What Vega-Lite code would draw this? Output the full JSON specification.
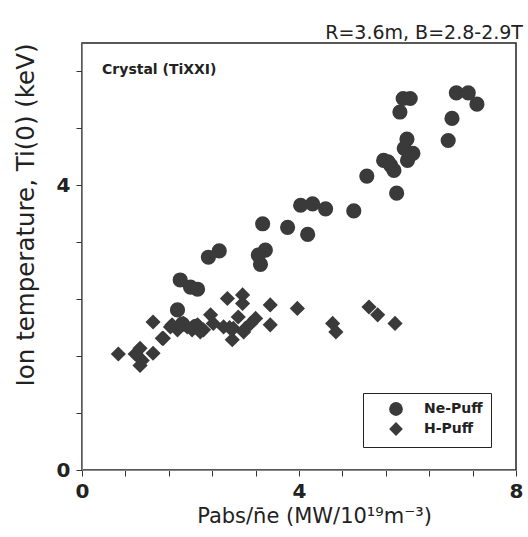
{
  "$schema": "https://vega.github.io/schema/vega-lite/v6.json",
  "width": 434,
  "height": 427,
  "autosize": {"type": "none"},
  "padding": {"left": 82, "top": 43, "right": 12, "bottom": 67},
  "background": "white",
  "title": {"text": "R=3.6m, B=2.8-2.9T", "anchor": "end", "fontSize": 19, "font": "DejaVu Sans", "fontWeight": "normal", "color": "#222", "offset": 6, "dy": 6},
  "config": {
    "view": {"stroke": "#222", "strokeWidth": 1.5},
    "axis": {"labelColor": "#222", "labelFont": "DejaVu Sans", "labelFontSize": 20, "labelFontWeight": "bold", "titleFont": "DejaVu Sans", "titleColor": "#222", "titleFontWeight": "normal", "titleFontSize": 23, "labelFlush": false, "labelOverlap": false}
  },
  "datasets": {
    "pts": [
      {"s": "Ne-Puff", "x": 5.92, "y": 5.22}, {"s": "Ne-Puff", "x": 6.05, "y": 5.22}, {"s": "Ne-Puff", "x": 5.86, "y": 5.03},
      {"s": "Ne-Puff", "x": 6.90, "y": 5.30}, {"s": "Ne-Puff", "x": 7.12, "y": 5.30}, {"s": "Ne-Puff", "x": 7.28, "y": 5.14},
      {"s": "Ne-Puff", "x": 6.82, "y": 4.94}, {"s": "Ne-Puff", "x": 6.75, "y": 4.63}, {"s": "Ne-Puff", "x": 5.99, "y": 4.65},
      {"s": "Ne-Puff", "x": 5.94, "y": 4.52}, {"s": "Ne-Puff", "x": 6.10, "y": 4.45}, {"s": "Ne-Puff", "x": 6.00, "y": 4.35},
      {"s": "Ne-Puff", "x": 5.56, "y": 4.35}, {"s": "Ne-Puff", "x": 5.64, "y": 4.33}, {"s": "Ne-Puff", "x": 5.69, "y": 4.28},
      {"s": "Ne-Puff", "x": 5.75, "y": 4.21}, {"s": "Ne-Puff", "x": 5.25, "y": 4.13}, {"s": "Ne-Puff", "x": 5.80, "y": 3.89},
      {"s": "Ne-Puff", "x": 5.01, "y": 3.64}, {"s": "Ne-Puff", "x": 4.03, "y": 3.72}, {"s": "Ne-Puff", "x": 4.25, "y": 3.74},
      {"s": "Ne-Puff", "x": 4.49, "y": 3.67}, {"s": "Ne-Puff", "x": 3.33, "y": 3.46}, {"s": "Ne-Puff", "x": 3.79, "y": 3.41},
      {"s": "Ne-Puff", "x": 4.16, "y": 3.31}, {"s": "Ne-Puff", "x": 2.53, "y": 3.08}, {"s": "Ne-Puff", "x": 2.33, "y": 2.99},
      {"s": "Ne-Puff", "x": 3.38, "y": 3.09}, {"s": "Ne-Puff", "x": 3.25, "y": 3.02}, {"s": "Ne-Puff", "x": 3.29, "y": 2.89},
      {"s": "Ne-Puff", "x": 1.81, "y": 2.67}, {"s": "Ne-Puff", "x": 2.00, "y": 2.57}, {"s": "Ne-Puff", "x": 2.13, "y": 2.54},
      {"s": "Ne-Puff", "x": 1.76, "y": 2.25}, {"s": "Ne-Puff", "x": 1.85, "y": 2.05}, {"s": "Ne-Puff", "x": 2.10, "y": 2.02},
      {"s": "H-Puff", "x": 0.67, "y": 1.63}, {"s": "H-Puff", "x": 0.98, "y": 1.63}, {"s": "H-Puff", "x": 1.07, "y": 1.71},
      {"s": "H-Puff", "x": 1.11, "y": 1.54}, {"s": "H-Puff", "x": 1.07, "y": 1.47}, {"s": "H-Puff", "x": 1.31, "y": 1.64},
      {"s": "H-Puff", "x": 1.31, "y": 2.08}, {"s": "H-Puff", "x": 1.48, "y": 1.85}, {"s": "H-Puff", "x": 1.63, "y": 2.01},
      {"s": "H-Puff", "x": 1.76, "y": 1.97}, {"s": "H-Puff", "x": 1.87, "y": 2.06}, {"s": "H-Puff", "x": 2.03, "y": 1.97},
      {"s": "H-Puff", "x": 2.13, "y": 2.04}, {"s": "H-Puff", "x": 2.24, "y": 1.97}, {"s": "H-Puff", "x": 2.37, "y": 2.18},
      {"s": "H-Puff", "x": 2.42, "y": 2.06}, {"s": "H-Puff", "x": 2.61, "y": 2.01}, {"s": "H-Puff", "x": 2.68, "y": 2.41},
      {"s": "H-Puff", "x": 2.77, "y": 1.83}, {"s": "H-Puff", "x": 2.79, "y": 1.99}, {"s": "H-Puff", "x": 2.96, "y": 2.46},
      {"s": "H-Puff", "x": 2.96, "y": 2.34}, {"s": "H-Puff", "x": 2.88, "y": 2.15}, {"s": "H-Puff", "x": 3.01, "y": 1.99},
      {"s": "H-Puff", "x": 3.11, "y": 2.06}, {"s": "H-Puff", "x": 3.20, "y": 2.13}, {"s": "H-Puff", "x": 3.47, "y": 2.32},
      {"s": "H-Puff", "x": 3.47, "y": 2.04}, {"s": "H-Puff", "x": 3.97, "y": 2.27}, {"s": "H-Puff", "x": 4.62, "y": 2.06},
      {"s": "H-Puff", "x": 4.68, "y": 1.94}, {"s": "H-Puff", "x": 5.29, "y": 2.29}, {"s": "H-Puff", "x": 5.45, "y": 2.18},
      {"s": "H-Puff", "x": 5.77, "y": 2.06}, {"s": "H-Puff", "x": 1.50, "y": 1.85}, {"s": "H-Puff", "x": 1.66, "y": 2.04},
      {"s": "H-Puff", "x": 1.94, "y": 2.01}, {"s": "H-Puff", "x": 2.18, "y": 1.94}, {"s": "H-Puff", "x": 2.98, "y": 1.94},
      {"s": "H-Puff", "x": 2.72, "y": 2.00}
    ],
    "note": [{"x": 0.37, "y": 5.62, "t": "Crystal (TiXXI)"}]
  },
  "layer": [
    {
      "data": {"name": "pts"},
      "mark": {"type": "point", "filled": true, "color": "#3a3a3a", "opacity": 1, "size": 230},
      "encoding": {
        "x": {"field": "x", "type": "quantitative", "scale": {"domain": [0, 8], "nice": false},
          "axis": {"orient": "bottom", "title": "Pabs/n̄e (MW/10¹⁹m⁻³)", "titleFontSize": 21, "titlePadding": 4, "titleX": 232, "grid": false,
            "values": [0,0.2,0.4,0.6,0.8,1,1.2,1.4,1.6,1.8,2,2.2,2.4,2.6,2.8,3,3.2,3.4,3.6,3.8,4,4.2,4.4,4.6,4.8,5,5.2,5.4,5.6,5.8,6,6.2,6.4,6.6,6.8,7,7.2,7.4,7.6,7.8,8],
            "labelExpr": "abs(datum.value-round(datum.value))<0.01 ? format(datum.value,'d') : ''",
            "tickSize": 6, "tickColor": "#333", "labelPadding": 5}},
        "y": {"field": "y", "type": "quantitative", "scale": {"domain": [0, 6], "nice": false},
          "axis": {"orient": "left", "title": "Ion temperature, Ti(0) (keV)", "titleFontSize": 24.5, "titlePadding": 18, "titleAnchor": "end", "grid": false,
            "values": [0,0.2,0.4,0.6,0.8,1,1.2,1.4,1.6,1.8,2,2.2,2.4,2.6,2.8,3,3.2,3.4,3.6,3.8,4,4.2,4.4,4.6,4.8,5,5.2,5.4,5.6,5.8,6],
            "labelExpr": "abs(datum.value-round(datum.value))<0.01 ? format(datum.value,'d') : ''",
            "tickSize": 6, "tickColor": "#333", "labelPadding": 6}},
        "shape": {"field": "s", "type": "nominal",
          "scale": {"domain": ["Ne-Puff", "H-Puff"], "range": ["circle", "diamond"]},
          "legend": {"orient": "none", "legendX": 281, "legendY": 350, "title": null, "strokeColor": "#222", "fillColor": "white", "padding": 8, "symbolOffset": 17, "labelFont": "DejaVu Sans", "labelFontSize": 14, "labelFontWeight": "bold", "labelColor": "#222", "labelOffset": 20, "rowPadding": 0, "symbolFillColor": "#3a3a3a", "symbolStrokeColor": "#3a3a3a", "symbolSize": 190, "labelExpr": "datum.label + ' '"}}
      }
    },
    {
      "data": {"name": "note"},
      "mark": {"type": "text", "align": "left", "baseline": "middle", "font": "DejaVu Sans", "fontSize": 14, "fontWeight": "bold", "color": "#222"},
      "encoding": {
        "x": {"field": "x", "type": "quantitative"},
        "y": {"field": "y", "type": "quantitative"},
        "text": {"field": "t"}
      }
    }
  ]
}
